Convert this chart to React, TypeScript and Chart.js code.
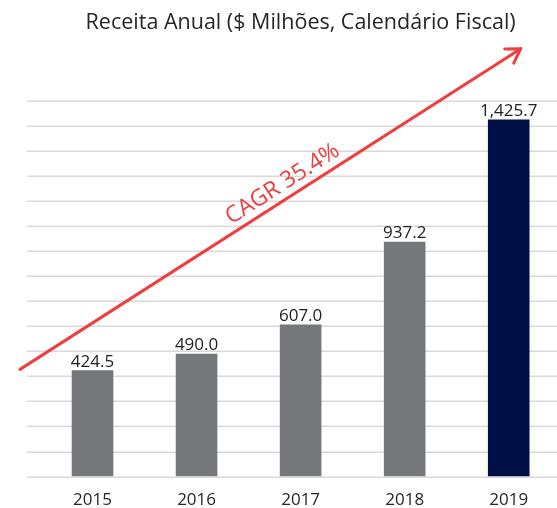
import React, { useEffect, useRef } from "react";
import { Chart, registerables } from "chart.js";

Chart.register(...registerables);

const categories = ["2015", "2016", "2017", "2018", "2019"];
const revenue = [424.5, 490.0, 607.0, 937.2, 1425.7];
const barColors = ["#76777b", "#76777b", "#76777b", "#76777b", "#011147"];
const yMax = 1500;
const yStep = 100;
const titleText = "Receita Anual ($ Milhões, Calendário Fiscal)";
const cagrText = "CAGR 35.4%";
// arrow annotation anchored in value space
const arrowStartValue = 428;
const arrowEndValue = 1708;

const FONT = "'Open Sans', 'Noto Sans', sans-serif";
const RED = "#ef3e3e";
const CANVAS_W = 604;

const gridPlugin = {
  id: "customGrid",
  beforeDatasetsDraw(chart: any) {
    const { ctx, chartArea, scales } = chart;
    const y = scales.y;
    ctx.save();
    ctx.strokeStyle = "#d9d9d9";
    ctx.lineWidth = 1.5;
    for (let v = 0; v <= yMax; v += yStep) {
      const py = Math.round(y.getPixelForValue(v)) + 0.25;
      ctx.beginPath();
      ctx.moveTo(chartArea.left - 13.5, py);
      ctx.lineTo(chart.width, py);
      ctx.stroke();
    }
    ctx.restore();
  },
};

const labelPlugin = {
  id: "valueLabels",
  afterDatasetsDraw(chart: any) {
    const { ctx } = chart;
    const meta = chart.getDatasetMeta(0);
    ctx.save();
    ctx.font = `17px ${FONT}`;
    ctx.fillStyle = "#222222";
    ctx.textAlign = "center";
    ctx.textBaseline = "bottom";
    meta.data.forEach((bar: any, i: number) => {
      const txt = revenue[i].toLocaleString("en-US", {
        minimumFractionDigits: 1,
        maximumFractionDigits: 1,
      });
      ctx.fillText(txt, bar.x, bar.y);
    });
    ctx.restore();
  },
};

const arrowPlugin = {
  id: "cagrArrow",
  afterDatasetsDraw(chart: any) {
    const { ctx, chartArea, scales } = chart;
    const x = scales.x;
    const y = scales.y;
    const x0 = chartArea.left - 20.5;
    const y0 = y.getPixelForValue(arrowStartValue);
    const x1 = x.getPixelForValue(categories.length - 1) + 12;
    const y1 = y.getPixelForValue(arrowEndValue);
    const ang = Math.atan2(y1 - y0, x1 - x0);
    ctx.save();
    ctx.strokeStyle = RED;
    ctx.lineWidth = 3;
    ctx.lineCap = "round";
    ctx.lineJoin = "round";
    ctx.beginPath();
    ctx.moveTo(x0, y0);
    ctx.lineTo(x1, y1);
    ctx.stroke();
    const head = 16;
    const spread = 0.55;
    ctx.beginPath();
    ctx.moveTo(x1 - head * Math.cos(ang - spread), y1 - head * Math.sin(ang - spread));
    ctx.lineTo(x1, y1);
    ctx.lineTo(x1 - head * Math.cos(ang + spread), y1 - head * Math.sin(ang + spread));
    ctx.stroke();

    // label along the arrow
    const t = 0.54;
    const mx = x0 + (x1 - x0) * t;
    const my = y0 + (y1 - y0) * t;
    ctx.translate(mx, my);
    ctx.rotate(ang);
    ctx.font = `23px ${FONT}`;
    ctx.fillStyle = RED;
    ctx.textAlign = "center";
    ctx.textBaseline = "bottom";
    ctx.fillText(cagrText, 0, -3);
    ctx.restore();
  },
};

export default function App() {
  const canvasRef = useRef<HTMLCanvasElement | null>(null);

  useEffect(() => {
    if (!canvasRef.current) return;
    const chart = new Chart(canvasRef.current, {
      type: "bar",
      data: {
        labels: categories,
        datasets: [
          {
            data: revenue,
            backgroundColor: barColors,
            barPercentage: 0.4,
            categoryPercentage: 1,
          },
        ],
      },
      options: {
        responsive: false,
        animation: false,
        layout: {
          padding: { left: 40.5, right: CANVAS_W - 560.75, top: 0, bottom: -15 },
        },
        plugins: {
          legend: { display: false },
          tooltip: { enabled: false },
          title: {
            display: true,
            text: titleText,
            color: "#262626",
            font: { family: FONT, size: 21.5, weight: "normal" },
            padding: { top: 10, bottom: 65 },
          },
        },
        scales: {
          x: {
            grid: { display: false, drawTicks: false },
            border: { display: false },
            ticks: {
              color: "#262626",
              font: { family: FONT, size: 17 },
              padding: 13,
            },
          },
          y: {
            display: false,
            min: 0,
            max: yMax,
            ticks: { stepSize: yStep },
          },
        },
      },
      plugins: [gridPlugin, labelPlugin, arrowPlugin],
    });
    return () => chart.destroy();
  }, []);

  return (
    <div
      style={{
        position: "fixed",
        left: 0,
        top: 0,
        width: 557,
        height: 508,
        overflow: "hidden",
        background: "#ffffff",
      }}
    >
      <canvas
        ref={canvasRef}
        width={CANVAS_W}
        height={508}
        style={{ display: "block", width: CANVAS_W, height: 508 }}
      />
    </div>
  );
}
